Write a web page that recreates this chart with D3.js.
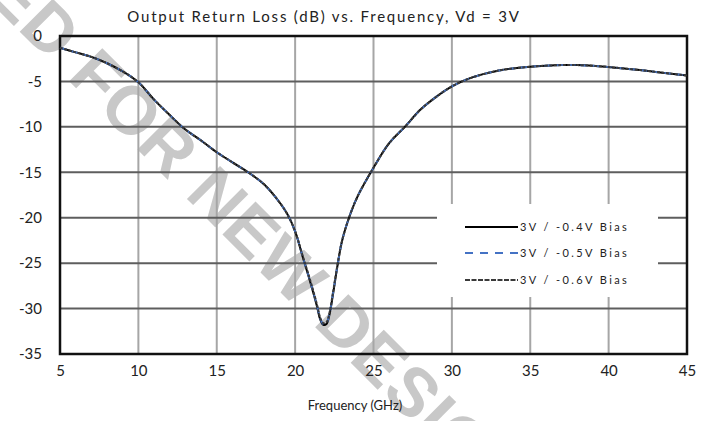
<!DOCTYPE html>
<html>
<head>
<meta charset="utf-8">
<script src="https://cdn.jsdelivr.net/npm/d3@7"></script>
<style>
  html, body { margin: 0; padding: 0; background: #fff; }
  svg { display: block; }
  text { font-family: Lato, "Open Sans", sans-serif; fill: #222; }
</style>
</head>
<body>
<svg id="chart" width="711" height="421"></svg>
<script>
// Output return loss sweep, Vd = 3V, three gate bias settings
const freqGHz = [5, 6, 7, 8, 9, 10, 11, 12, 13, 14, 15, 16, 17, 18, 19, 19.5, 20, 20.5, 21, 21.4, 21.6, 21.8, 22.0, 22.2, 22.4, 22.7, 23, 23.5, 24, 25, 26, 27, 28, 29, 30, 31, 32, 33, 34, 35, 36, 37, 38, 39, 40, 41, 42, 43, 44, 45];
const bias04 = [-1.3, -1.8, -2.3, -3.0, -3.9, -5.1, -7.0, -8.7, -10.3, -11.5, -12.8, -13.9, -15.0, -16.3, -18.3, -19.6, -21.5, -24.4, -27.3, -29.8, -31.2, -31.8, -31.7, -30.6, -28.6, -25.3, -22.5, -19.7, -17.6, -14.5, -11.8, -10.0, -8.1, -6.7, -5.55, -4.75, -4.2, -3.8, -3.55, -3.38, -3.27, -3.2, -3.2, -3.28, -3.42, -3.58, -3.75, -3.95, -4.15, -4.35];
const bias05 = [-1.3, -1.8, -2.3, -3.0, -3.9, -5.1, -7.0, -8.7, -10.3, -11.5, -12.8, -13.9, -15.0, -16.3, -18.3, -19.6, -21.5, -24.4, -27.2, -29.7, -31.1, -31.7, -31.6, -30.5, -28.5, -25.3, -22.5, -19.7, -17.6, -14.5, -11.8, -10.0, -8.1, -6.7, -5.55, -4.75, -4.2, -3.8, -3.55, -3.38, -3.27, -3.2, -3.2, -3.28, -3.42, -3.58, -3.75, -3.95, -4.15, -4.35];
const bias06 = [-1.3, -1.8, -2.3, -3.0, -3.9, -5.1, -7.0, -8.7, -10.3, -11.5, -12.8, -13.9, -15.0, -16.3, -18.3, -19.6, -21.5, -24.3, -27.1, -29.6, -31.0, -31.6, -31.5, -30.4, -28.4, -25.2, -22.5, -19.7, -17.6, -14.5, -11.8, -10.0, -8.1, -6.7, -5.55, -4.75, -4.2, -3.8, -3.55, -3.38, -3.27, -3.2, -3.2, -3.28, -3.42, -3.58, -3.75, -3.95, -4.15, -4.35];

const seriesNames = ["3V / -0.4V Bias", "3V / -0.5V Bias", "3V / -0.6V Bias"];
const xTicks = [5, 10, 15, 20, 25, 30, 35, 40, 45];
const yTicks = [0, -5, -10, -15, -20, -25, -30, -35];
const titleText = "Output Return Loss (dB) vs. Frequency, Vd = 3V";
const xAxisTitle = "Frequency (GHz)";
const watermark = "NOT RECOMMENDED FOR NEW DESIGNS";

const svg = d3.select("#chart");
const W = 711, H = 421;
const m = { left: 60, top: 36, right: 24, bottom: 67 };

const x = d3.scaleLinear().domain([5, 45]).range([m.left, W - m.right]);
const y = d3.scaleLinear().domain([-35, 0]).range([H - m.bottom, m.top]);

// diagonal watermark, sitting behind the chart
const wmFont = "'Liberation Sans', Arial, sans-serif";
const wmLayer = svg.append("g");
const probe = wmLayer.append("text")
  .style("font-family", wmFont).style("font-weight", "bold")
  .style("font-size", "68px").style("letter-spacing", "1px")
  .text("NOT RECOMMENDED ");
const prefixLen = probe.node().getComputedTextLength();
probe.remove();
wmLayer.append("text")
  .attr("transform", "translate(52,64) rotate(45) translate(" + (-prefixLen) + ",0)")
  .style("font-family", wmFont).style("font-weight", "bold")
  .style("font-size", "68px").style("letter-spacing", "1px")
  .style("fill", "#c8c8c8")
  .text(watermark);

// gridlines
svg.append("g").selectAll("line")
  .data(xTicks.filter(d => d > 5 && d < 45))
  .join("line")
  .attr("x1", d => x(d)).attr("x2", d => x(d))
  .attr("y1", y(0)).attr("y2", y(-35))
  .attr("stroke", "#a6a6a6").attr("stroke-width", 2);

svg.append("g").selectAll("line")
  .data(yTicks.filter(d => d < 0 && d > -35))
  .join("line")
  .attr("x1", x(5)).attr("x2", x(45))
  .attr("y1", d => y(d)).attr("y2", d => y(d))
  .attr("stroke", "#5e5e5e").attr("stroke-width", 2);

// legend backdrop
const lg = { x: 437, y: 204, w: 221, h: 93 };
svg.append("rect").attr("x", lg.x).attr("y", lg.y)
  .attr("width", lg.w).attr("height", lg.h).attr("fill", "#fff");

// plot frame
svg.append("rect")
  .attr("x", x(5)).attr("y", y(0))
  .attr("width", x(45) - x(5)).attr("height", y(-35) - y(0))
  .attr("fill", "none").attr("stroke", "#111").attr("stroke-width", 2.5);

// axes
const yAxis = d3.axisLeft(y).tickValues(yTicks).tickSize(0).tickPadding(18).tickFormat(d => String(d));
const gy = svg.append("g").attr("transform", `translate(${m.left},0)`).call(yAxis);
gy.select(".domain").remove();
gy.selectAll("text").style("font-size", "15px").style("font-family", "Lato, sans-serif").attr("fill", "#222");

const xAxis = d3.axisBottom(x).tickValues(xTicks).tickSize(0).tickPadding(11).tickFormat(d => String(d));
const gx = svg.append("g").attr("transform", `translate(0,${H - m.bottom})`).call(xAxis);
gx.select(".domain").remove();
gx.selectAll("text").style("font-size", "15px").style("font-family", "Lato, sans-serif").attr("fill", "#222");

// titles
svg.append("text").attr("x", 324).attr("y", 22).attr("text-anchor", "middle")
  .style("font-size", "15px").style("letter-spacing", "1.8px").text(titleText);
svg.append("text").attr("x", 355).attr("y", 410).attr("text-anchor", "middle")
  .style("font-size", "13px").text(xAxisTitle);

// curves
const line = d3.line().x((d, i) => x(freqGHz[i])).y(d => y(d)).curve(d3.curveCatmullRom.alpha(0.5));
const styles = [
  { color: "#000000", width: 2, dash: null },
  { color: "#4472c4", width: 2, dash: "7,5" },
  { color: "#3a3a3a", width: 2, dash: "3,1.5" }
];
const seriesData = [bias04, bias05, bias06];

svg.append("g").selectAll("path")
  .data(seriesData)
  .join("path")
  .attr("d", d => line(d))
  .attr("fill", "none")
  .attr("stroke", (d, i) => styles[i].color)
  .attr("stroke-width", (d, i) => styles[i].width)
  .attr("stroke-dasharray", (d, i) => styles[i].dash);

// legend entries
const rowY = [227, 253, 280];
const lgItems = svg.append("g").selectAll("g")
  .data(seriesNames)
  .join("g")
  .attr("transform", (d, i) => `translate(0,${rowY[i]})`);
lgItems.append("line")
  .attr("x1", 465).attr("x2", 518).attr("y1", 0).attr("y2", 0)
  .attr("stroke", (d, i) => styles[i].color)
  .attr("stroke-width", 2)
  .attr("stroke-dasharray", (d, i) => styles[i].dash ? (i === 1 ? "8,7" : "5,1.5") : null);
lgItems.append("text")
  .attr("x", 520).attr("y", 4)
  .style("font-size", "11px").style("letter-spacing", "2.4px")
  .attr("fill", "#333")
  .text(d => d);
</script>
</body>
</html>
